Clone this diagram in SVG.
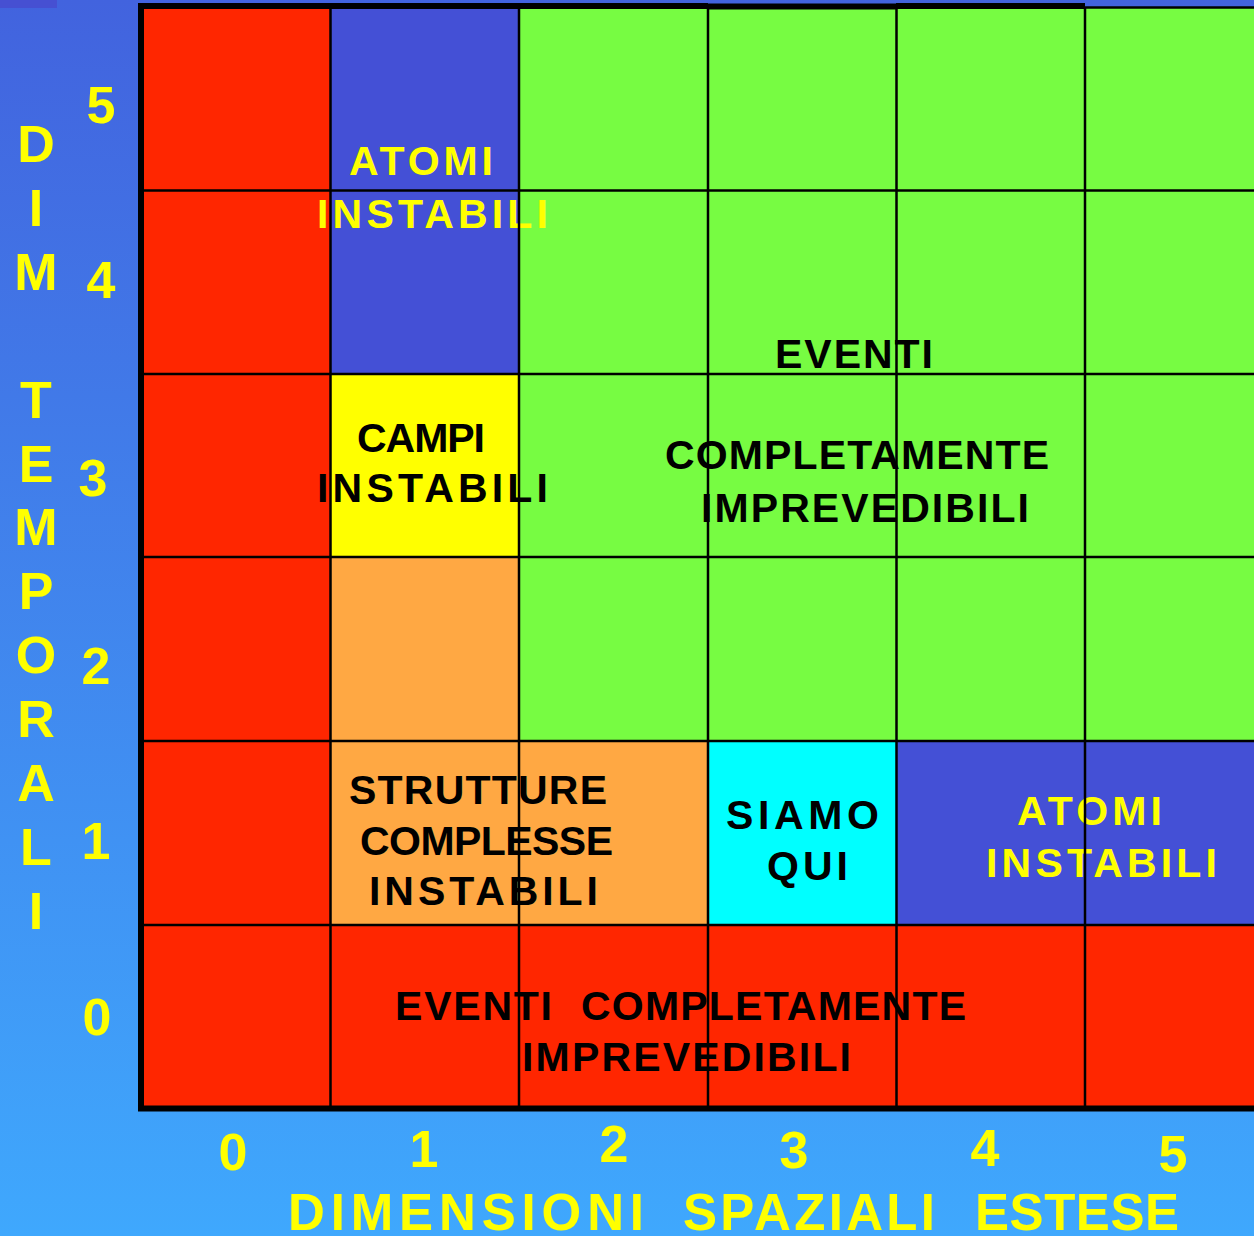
<svg xmlns="http://www.w3.org/2000/svg" width="1254" height="1236" viewBox="0 0 1254 1236">
<defs>
<linearGradient id="bg" x1="0" y1="0" x2="0" y2="1">
<stop offset="0" stop-color="#4263de"/>
<stop offset="1" stop-color="#3fa8fd"/>
</linearGradient>
<style>
.red{fill:#ff2600}
.blue{fill:#4450d6}
.green{fill:#77fc42}
.yellow{fill:#ffff00}
.orange{fill:#ffa843}
.cyan{fill:#00ffff}
.grid{stroke:#000;stroke-width:2.5;fill:none}
.frame{stroke:#000;stroke-width:6;fill:none}
.lbl{font-family:"Liberation Sans",Arial,sans-serif;font-weight:bold;font-size:41px}
.ax{font-family:"Liberation Sans",Arial,sans-serif;font-weight:bold;font-size:51px;fill:#ffff00}
.axn{font-family:"Liberation Sans",Arial,sans-serif;font-weight:bold;font-size:52px;fill:#ffff00;text-anchor:middle}
.ylw{fill:#ffff00}
.blk{fill:#000}
</style>
</defs>
<rect x="0" y="0" width="1254" height="1236" fill="url(#bg)"/>
<rect x="0" y="0" width="57" height="8" fill="#4650d2"/>

<g id="cells">
<rect class="red" x="142" y="7" width="188" height="1101"/>
<rect class="red" x="330" y="925" width="924" height="183"/>
<rect class="blue" x="330" y="7" width="189" height="367"/>
<rect class="yellow" x="330" y="374" width="189" height="183"/>
<rect class="orange" x="330" y="557" width="189" height="368"/>
<rect class="orange" x="519" y="741" width="189" height="184"/>
<rect class="green" x="519" y="7" width="735" height="734"/>
<rect class="cyan" x="708" y="741" width="188" height="184"/>
<rect class="blue" x="896" y="741" width="358" height="184"/>
</g>

<g id="label-atomi-instabili-top">
<text class="lbl ylw" x="349" y="175" textLength="144" lengthAdjust="spacing">ATOMI</text>
<text class="lbl ylw" x="317" y="228" textLength="231" lengthAdjust="spacing">INSTABILI</text>
</g>
<g id="label-campi-instabili">
<text class="lbl blk" x="357" y="452" textLength="128" lengthAdjust="spacing">CAMPI</text>
<text class="lbl blk" x="317" y="502" textLength="231" lengthAdjust="spacing">INSTABILI</text>
</g>
<g id="label-eventi-green">
<text class="lbl blk" x="775" y="368" textLength="158" lengthAdjust="spacing">EVENTI</text>
<text class="lbl blk" x="665" y="469" textLength="384" lengthAdjust="spacing">COMPLETAMENTE</text>
<text class="lbl blk" x="701" y="522" textLength="328" lengthAdjust="spacing">IMPREVEDIBILI</text>
</g>
<g id="label-strutture">
<text class="lbl blk" x="349" y="804" textLength="258" lengthAdjust="spacing">STRUTTURE</text>
<text class="lbl blk" x="360" y="855" textLength="253" lengthAdjust="spacing">COMPLESSE</text>
<text class="lbl blk" x="369" y="905" textLength="229" lengthAdjust="spacing">INSTABILI</text>
</g>
<g id="label-siamo-qui">
<text class="lbl blk" x="726" y="829" textLength="153" lengthAdjust="spacing">SIAMO</text>
<text class="lbl blk" x="767" y="880" textLength="81" lengthAdjust="spacing">QUI</text>
</g>
<g id="label-atomi-instabili-bottom">
<text class="lbl ylw" x="1017" y="825" textLength="145" lengthAdjust="spacing">ATOMI</text>
<text class="lbl ylw" x="986" y="877" textLength="231" lengthAdjust="spacing">INSTABILI</text>
</g>
<g id="label-eventi-red">
<text class="lbl blk" x="395" y="1020" textLength="157" lengthAdjust="spacing">EVENTI</text>
<text class="lbl blk" x="581" y="1020" textLength="385" lengthAdjust="spacing">COMPLETAMENTE</text>
<text class="lbl blk" x="522" y="1071" textLength="329" lengthAdjust="spacing">IMPREVEDIBILI</text>
</g>

<g id="grid">
<path class="grid" d="M330.5 7V1108M519 7V1108M708 7V1108M896.5 7V1108M1085 7V1108"/>
<path class="grid" d="M142 190.5H1254M142 374H1254M142 557H1254M142 741H1254M142 925H1254"/>
<path class="grid" d="M1085 7.5H1254" stroke-width="1.5"/>
<path class="frame" d="M141 6H708M896 6H1085"/>
<path class="frame" d="M708 6.5H896" stroke-width="4"/>
<path class="frame" d="M141 3V1111M138 1108.5H1254"/>
</g>

<g id="y-axis">
<g id="y-title">
<text class="axn" x="36" y="162">D</text>
<text class="axn" x="36" y="226">I</text>
<text class="axn" x="36" y="290">M</text>
<text class="axn" x="36" y="418">T</text>
<text class="axn" x="36" y="482">E</text>
<text class="axn" x="36" y="545">M</text>
<text class="axn" x="36" y="609">P</text>
<text class="axn" x="36" y="673">O</text>
<text class="axn" x="36" y="737">R</text>
<text class="axn" x="36" y="801">A</text>
<text class="axn" x="36" y="865">L</text>
<text class="axn" x="36" y="929">I</text>
</g>
<text class="axn" x="101" y="123">5</text>
<text class="axn" x="101" y="298">4</text>
<text class="axn" x="93" y="496">3</text>
<text class="axn" x="96" y="684">2</text>
<text class="axn" x="96" y="859">1</text>
<text class="axn" x="97" y="1035">0</text>
</g>

<g id="x-axis">
<text class="axn" x="233" y="1170">0</text>
<text class="axn" x="424" y="1167">1</text>
<text class="axn" x="614" y="1162">2</text>
<text class="axn" x="794" y="1168">3</text>
<text class="axn" x="985" y="1166">4</text>
<text class="axn" x="1173" y="1172">5</text>
<g id="x-title">
<text class="ax" x="288" y="1230" textLength="356" lengthAdjust="spacing">DIMENSIONI</text>
<text class="ax" x="683" y="1230" textLength="252" lengthAdjust="spacing">SPAZIALI</text>
<text class="ax" x="975" y="1230" textLength="204" lengthAdjust="spacing">ESTESE</text>
</g>
</g>
</svg>
